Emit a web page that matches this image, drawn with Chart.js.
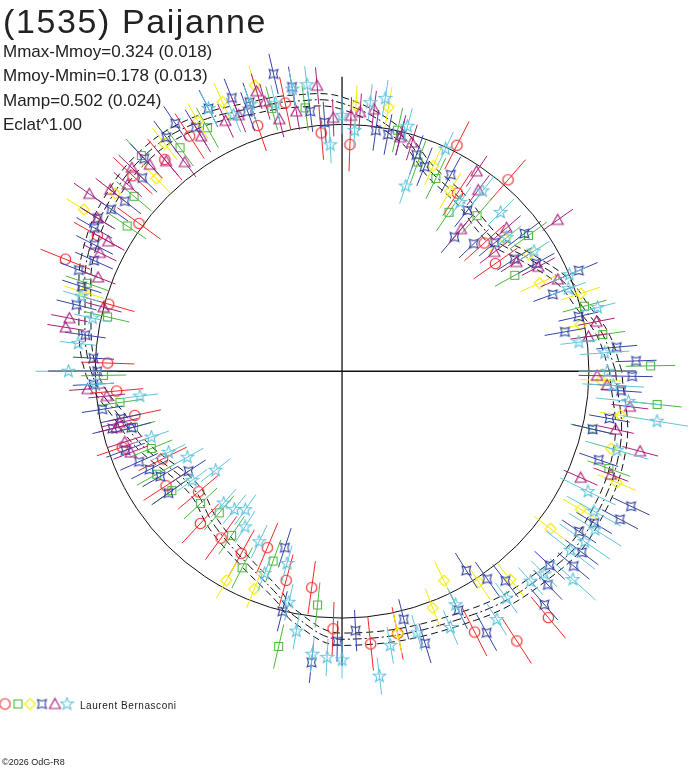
<!DOCTYPE html>
<html>
<head>
<meta charset="utf-8">
<script src="https://cdn.jsdelivr.net/npm/chart.js@4.4.1/dist/chart.umd.min.js"></script>
<style>
body { margin: 0; background: #fff; }
#wrap { position: relative; width: 688px; height: 768px; overflow: hidden; }
canvas { position: absolute; left: 0; top: 0; }
.t { position: absolute; left: 3px; font-family: "Liberation Sans", Arial, sans-serif; color: #222; white-space: nowrap; line-height: 1; }
</style>
</head>
<body>
<div id="wrap">
  <canvas id="polar" width="688" height="768"></canvas>
  <div class="t" style="top:4px;font-size:34px;letter-spacing:1.6px">(1535) Paijanne</div>
  <div class="t" style="top:42.6px;font-size:17px">Mmax-Mmoy=0.324 (0.018)</div>
  <div class="t" style="top:67.4px;font-size:17px">Mmoy-Mmin=0.178 (0.013)</div>
  <div class="t" style="top:91.6px;font-size:17px">Mamp=0.502 (0.024)</div>
  <div class="t" style="top:115.6px;font-size:17px">Eclat^1.00</div>
  <div class="t" style="left:80px;top:700.5px;font-size:10px;letter-spacing:0.55px">Laurent Bernasconi</div>
  <div class="t" style="left:2px;top:758.4px;font-size:9px">©2026 OdG-R8</div>
</div>
<script>
// polar light curve: angle = rotation phase (deg), radius = reference circle + magnitude offset
const R0 = 252;   // reference circle (mean magnitude)
const K = 210;    // radius units per magnitude
const AXIS_R = 300;

// fitted curve: phase angle (deg) and offset (mag)
const fitAng = [0, 8, 15, 22, 31, 40, 47, 54, 60, 66, 76, 90, 100, 109, 121, 132, 144, 155, 164, 180, 193, 201, 218, 230, 242, 254, 259, 270, 298, 317, 329, 345, 360];
const fitDm  = [0.13, 0.08, 0.01, -0.04, -0.14, -0.22, -0.22, -0.19, -0.17, -0.14, -0.02, 0.10, 0.13, 0.15, 0.20, 0.22, 0.20, 0.16, 0.10, 0.02, -0.11, -0.17, -0.28, -0.23, -0.17, -0.07, 0.01, 0.10, 0.14, 0.20, 0.22, 0.20, 0.13];
const fitSigma = 0.03;

// observations per session: [phase deg, offset mag, (error mag)]
const redPts = [[35,-0.29],[42,-0.27],[49,0.03],[57,-0.17],[63,0.03],[88,-0.10],[95,-0.04],[102,0.13],[109,0.06],[123,0.16],[130,0.14],[137,0.19],[144,0.02],[151,0.16],[158,0.25],[164,-0.02],[178,-0.06],[185,-0.10],[192,-0.17],[199,-0.07],[206,-0.23],[213,-0.18],[220,-0.29],[227,-0.19],[234,-0.20],[241,-0.19],[247,-0.27],[255,-0.15],[262,-0.14],[268,0.05],[276,0.13],[282,0.10],[297,0.22],[303,0.36],[310,0.36]];
const greenPts = [[1,0.30,0.12],[8,0.08],[15,0.02],[29,-0.24],[36,-0.08],[49,-0.20],[56,-0.27],[64,-0.16],[70,-0.12],[77,0.00],[98,0.09],[105,0.12],[119,0.15],[126,0.14],[133,0.23],[140,0.12],[146,0.06],[161,0.11],[167,-0.03],[181,-0.04],[188,-0.11],[195,-0.15],[202,-0.20],[209,-0.17],[215,-0.19],[223,-0.26],[229,-0.29],[236,-0.24],[243,-0.13],[250,-0.22],[257,0.17],[264,-0.06],[340,0.18],[347,0.05],[354,0.34,0.12]];
const yellowPts = [[11,-0.02],[18,0.02],[24,-0.15],[32,-0.13],[39,-0.18],[59,-0.18],[66,-0.11],[80,0.10],[87,0.09],[107,0.25],[114,0.23],[120,0.20],[128,0.20],[134,0.10],[142,0.20],[148,0.28],[163,0.11],[241,-0.04],[248,-0.06],[282,0.10],[291,0.03],[296,-0.07],[303,0.02],[309,0.10],[323,0.07],[330,0.14],[338,0.24],[344,0.16],[351,0.17],[358,0.06]];
const bluePts = [[2,0.23],[5,0.14],[10,-0.10],[13,-0.02],[20,-0.11],[23,0.05],[29,-0.12],[33,-0.20],[37,-0.09],[40,-0.23],[44,-0.31],[50,-0.35],[52,-0.21],[61,-0.11],[68,-0.13],[71,-0.09],[76,-0.02],[79,-0.03],[82,-0.02],[94,0.01],[97,0.07],[100,0.20],[103,0.28],[109,0.18],[110,0.14],[112,0.23],[117,0.23],[121,0.18],[124,0.25],[127,0.22],[133,0.21],[136,0.15],[142,0.14],[145,0.17],[148,0.20],[150,0.19],[153,0.15],[156,0.12],[159,0.17],[162,0.13],[166,0.13],[172,0.06],[177,0.01],[180,-0.01],[183,0.01],[189,-0.02],[192,-0.10],[194,-0.05],[195,-0.14],[200,-0.08],[204,-0.12],[207,-0.15],[210,-0.18],[213,-0.31],[215,-0.17],[252,-0.30],[256,0.00],[264,0.22],[269,0.11],[273,0.06],[284,0.04],[287,0.18],[296,0.09],[299,0.25],[302,-0.06],[305,0.03],[308,0.09],[311,0.30],[314,0.24],[317,0.18],[320,0.27],[323,0.26],[326,0.19],[329,0.23],[332,0.33],[335,0.35],[341,0.12],[347,0.05],[350,0.12],[356,0.16],[359,0.21]];
const purplePts = [[8,0.01],[11,0.06],[23,-0.06],[28,-0.12],[32,-0.20],[35,0.08],[38,-0.26],[41,-0.14],[50,-0.30],[53,-0.10],[56,-0.03],[73,-0.04],[76,-0.03],[83,0.08],[86,0.06],[88,0.04],[92,0.03],[95,0.19],[100,0.08],[104,0.06],[106,0.16],[107,0.22],[112,0.14],[115,0.14],[121,0.13],[127,0.07],[130,0.13],[133,0.17],[136,0.22],[139,0.18],[142,0.23],[145,0.30],[148,0.20],[151,0.10],[154,0.11],[159,0.07],[165,0.00],[169,0.15],[171,0.16],[184,0.04],[186,-0.05],[193,-0.09],[194,-0.07],[198,-0.09],[201,-0.10],[336,0.07],[339,0.20],[345,0.30],[348,0.16],[353,0.21],[357,0.09],[359,0.04]];
const cyanPts = [[0,0.09,0.14],[4,0.08,0.12],[7,-0.04],[14,0.08],[20,-0.03],[23,0.00],[32,-0.10],[39,-0.17],[45,-0.11],[52,-0.09],[55,-0.20],[65,-0.01],[71,-0.25],[75,0.03],[81,0.14],[84,0.11],[87,-0.03],[90,0.04],[93,-0.10],[97,0.20],[100,0.19],[104,0.14],[109,0.17],[113,0.15],[117,0.23],[164,0.12],[168,0.04],[174,0.09],[180,0.13,0.16],[183,0.00],[187,-0.21],[199,-0.22],[205,-0.27],[209,-0.34],[216,-0.30],[218,-0.42],[228,-0.34],[232,-0.35],[235,-0.38],[238,-0.31],[244,-0.28],[249,-0.15],[254,-0.23],[257,-0.05],[260,0.08],[264,0.18],[267,0.19],[270,0.20],[277,0.29],[280,0.15],[286,0.12],[293,0.15],[296,0.06],[302,0.22],[306,0.16],[312,0.17],[315,0.19],[318,0.31,0.15],[322,0.21,0.15],[325,0.24,0.15],[328,0.25,0.15],[331,0.20,0.15],[334,0.13,0.15],[344,0.19,0.16],[351,0.35,0.17],[354,0.20,0.16],[357,0.12,0.15]];

const errRed = 0.13, errGreen = 0.11, errYellow = 0.10, errBlue = 0.10, errPurple = 0.09, errCyan = 0.09;

const cRed = "#f02828", cGreen = "#4cb83c", cYellow = "#f4ec00", cBlue = "#3444a4", cPurple = "#a8207c", cCyan = "#60c4de";

function toXY(ang, dm) {
  const r = R0 + K * dm, a = ang * Math.PI / 180;
  return { x: r * Math.cos(a), y: r * Math.sin(a) };
}

function obs(pts, err) {
  return pts.map(p => Object.assign(toXY(p[0], p[1]), { ang: p[0], dm: p[1], err: p[2] !== undefined ? p[2] : err }));
}

function fitLine(shift) {
  return fitAng.map((a, i) => toXY(a, fitDm[i] + shift));
}

// small marker images
function icon(kind, color) {
  const cv = document.createElement("canvas");
  cv.width = 15; cv.height = 15;
  const g = cv.getContext("2d");
  g.strokeStyle = color; g.lineWidth = 1.1;
  g.beginPath();
  const c = 7.5;
  if (kind === "circle") {
    g.arc(c, c, 5.2, 0, Math.PI * 2);
  } else if (kind === "square") {
    g.rect(3.5, 3.5, 8, 8);
  } else if (kind === "diamond") {
    g.moveTo(c, 2); g.lineTo(13, c); g.lineTo(c, 13); g.lineTo(2, c); g.closePath();
  } else if (kind === "triangle") {
    g.moveTo(c, 2); g.lineTo(13, 12); g.lineTo(2, 12); g.closePath();
  } else {
    const n = kind === "star4" ? 4 : 5;
    const ro = kind === "star4" ? 6.2 : 6.5, ri = kind === "star4" ? 3.0 : 2.7;
    const start = kind === "star4" ? -Math.PI / 4 : -Math.PI / 2;
    for (let i = 0; i < n * 2; i++) {
      const r = i % 2 ? ri : ro, a = start + i * Math.PI / n;
      const px = c + r * Math.cos(a), py = c + r * Math.sin(a);
      i ? g.lineTo(px, py) : g.moveTo(px, py);
    }
    g.closePath();
  }
  g.stroke();
  return cv;
}

const icons = [
  icon("circle", cRed), icon("square", cGreen), icon("diamond", cYellow),
  icon("star4", cBlue), icon("triangle", cPurple), icon("star5", cCyan)
];

function series(pts, err, color, img, ord) {
  return {
    data: obs(pts, err), errColor: color, pointStyle: img, pointRadius: 6,
    backgroundColor: "rgba(0,0,0,0)", borderColor: color, showLine: false, order: ord
  };
}

function curve(data, dash, ord) {
  return {
    data: data, showLine: true, borderColor: "#111", borderWidth: 1, borderDash: dash,
    pointRadius: 0, tension: 0.4, fill: false, order: ord
  };
}

// radial error bars, drawn just before each series' markers
const errorBars = {
  id: "errorBars",
  beforeDatasetDraw(chart, args) {
    const ds = chart.data.datasets[args.index];
    if (!ds.errColor) return;
    const ctx = chart.ctx, xs = chart.scales.x, ys = chart.scales.y;
    ctx.save();
    ctx.strokeStyle = ds.errColor;
    ctx.lineWidth = 1;
    ctx.beginPath();
    ds.data.forEach(d => {
      const p1 = toXY(d.ang, d.dm - d.err), p2 = toXY(d.ang, d.dm + d.err);
      ctx.moveTo(xs.getPixelForValue(p1.x), ys.getPixelForValue(p1.y));
      ctx.lineTo(xs.getPixelForValue(p2.x), ys.getPixelForValue(p2.y));
    });
    ctx.stroke();
    ctx.restore();
  }
};

// reference circle and symbol legend
const decor = {
  id: "decor",
  beforeDatasetsDraw(chart) {
    const ctx = chart.ctx, xs = chart.scales.x, ys = chart.scales.y;
    const cx = xs.getPixelForValue(0), cy = ys.getPixelForValue(0);
    const rad = xs.getPixelForValue(R0) - cx;
    ctx.save();
    ctx.strokeStyle = "#111";
    ctx.lineWidth = 1;
    ctx.beginPath();
    ctx.arc(cx, cy, rad, 0, Math.PI * 2);
    ctx.stroke();
    ctx.restore();
  },
  afterDraw(chart) {
    const ctx = chart.ctx;
    const lx = [5, 18, 30, 42, 55, 67];
    icons.forEach((im, i) => ctx.drawImage(im, lx[i] - 7.5, 704 - 7.5));
  }
};

new Chart(document.getElementById("polar").getContext("2d"), {
  type: "scatter",
  data: {
    datasets: [
      series(cyanPts, errCyan, cCyan, icons[5], 1),
      series(purplePts, errPurple, cPurple, icons[4], 2),
      series(bluePts, errBlue, cBlue, icons[3], 3),
      series(yellowPts, errYellow, cYellow, icons[2], 4),
      series(greenPts, errGreen, cGreen, icons[1], 5),
      series(redPts, errRed, cRed, icons[0], 6),
      curve(fitLine(0), [9, 3, 2, 3], 10),
      curve(fitLine(fitSigma), [7, 4], 11),
      curve(fitLine(-fitSigma), [7, 4], 12),
      { data: [{ x: -AXIS_R, y: 0 }, { x: AXIS_R, y: 0 }], showLine: true, borderColor: "#111", borderWidth: 1.3, pointRadius: 0, order: 20 },
      { data: [{ x: 0, y: -AXIS_R }, { x: 0, y: AXIS_R }], showLine: true, borderColor: "#111", borderWidth: 1.3, pointRadius: 0, order: 21 }
    ]
  },
  options: {
    responsive: false,
    animation: false,
    devicePixelRatio: 1,
    layout: { padding: 0 },
    scales: {
      x: { type: "linear", min: -342, max: 346, display: false },
      y: { type: "linear", min: -397, max: 371, display: false }
    },
    plugins: {
      legend: { display: false },
      tooltip: { enabled: false }
    }
  },
  plugins: [errorBars, decor]
});
</script>
</body>
</html>
